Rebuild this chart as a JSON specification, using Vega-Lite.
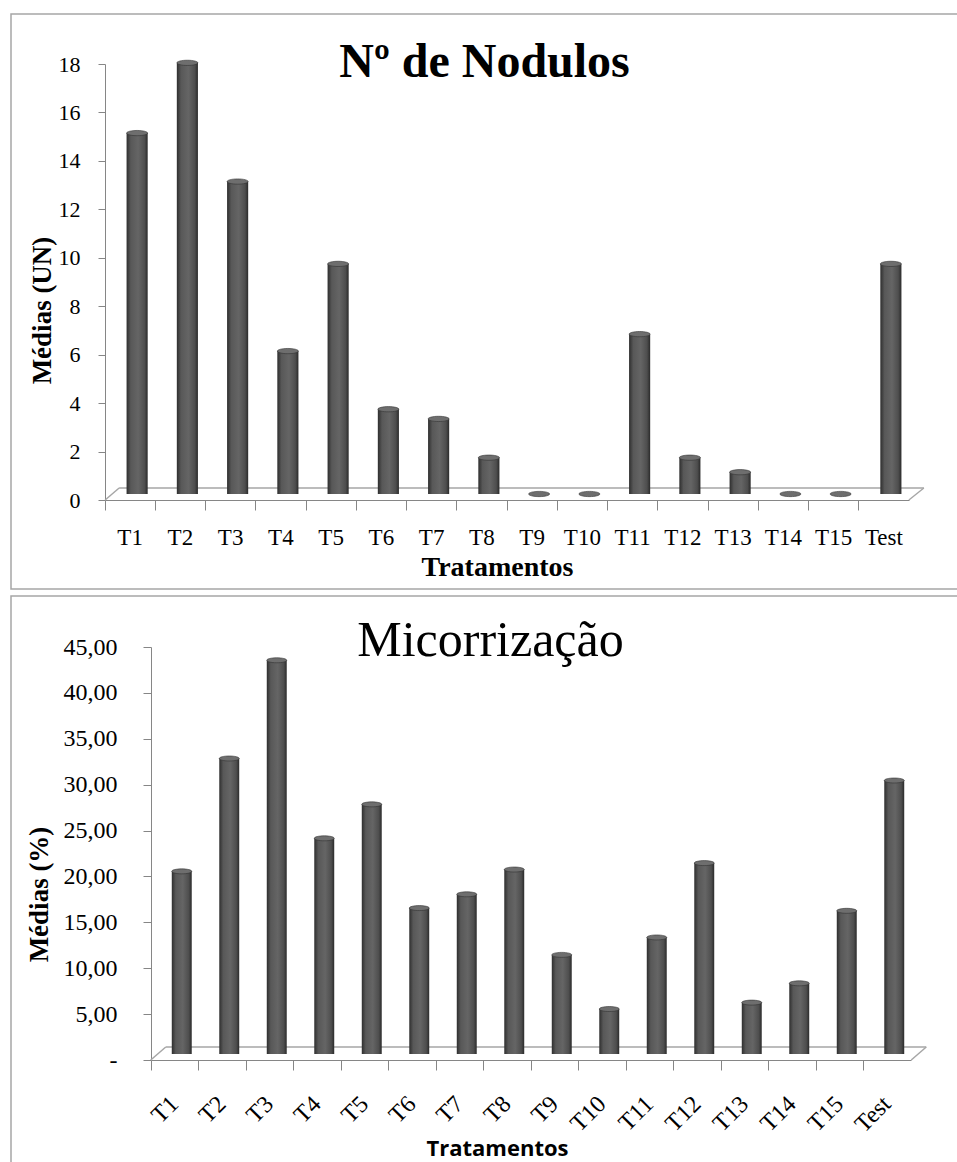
{
  "$schema": "https://vega.github.io/schema/vega-lite/v6.json",
  "padding": {"left": 10, "top": 13, "right": 0, "bottom": 0},
  "background": "white",
  "spacing": 5,
  "datasets": {
    "nodulos": [
      {"trat": "T1", "media": 14.9},
      {"trat": "T2", "media": 17.8},
      {"trat": "T3", "media": 12.9},
      {"trat": "T4", "media": 5.9},
      {"trat": "T5", "media": 9.5},
      {"trat": "T6", "media": 3.5},
      {"trat": "T7", "media": 3.1},
      {"trat": "T8", "media": 1.5},
      {"trat": "T9", "media": 0},
      {"trat": "T10", "media": 0},
      {"trat": "T11", "media": 6.6},
      {"trat": "T12", "media": 1.5},
      {"trat": "T13", "media": 0.9},
      {"trat": "T14", "media": 0},
      {"trat": "T15", "media": 0},
      {"trat": "Test", "media": 9.5}
    ],
    "micorrizacao": [
      {"trat": "T1", "media": 19.9},
      {"trat": "T2", "media": 32.2},
      {"trat": "T3", "media": 42.9},
      {"trat": "T4", "media": 23.5},
      {"trat": "T5", "media": 27.2},
      {"trat": "T6", "media": 15.9},
      {"trat": "T7", "media": 17.4},
      {"trat": "T8", "media": 20.1},
      {"trat": "T9", "media": 10.8},
      {"trat": "T10", "media": 4.9},
      {"trat": "T11", "media": 12.7},
      {"trat": "T12", "media": 20.8},
      {"trat": "T13", "media": 5.6},
      {"trat": "T14", "media": 7.7},
      {"trat": "T15", "media": 15.6},
      {"trat": "Test", "media": 29.8}
    ]
  },
  "vconcat": [
    {
      "width": 947,
      "height": 575,
      "view": {"stroke": "#a6a6a6", "strokeWidth": 1.5},
      "title": {
        "text": "Nº de Nodulos",
        "font": "Liberation Serif",
        "fontSize": 48,
        "fontWeight": "bold",
        "color": "black",
        "anchor": "middle",
        "frame": "group",
        "offset": -73
      },
      "data": {"name": "nodulos"},
      "encoding": {
        "x": {
          "field": "trat",
          "type": "nominal",
          "sort": null,
          "scale": {
            "domain": ["T1", "T2", "T3", "T4", "T5", "T6", "T7", "T8", "T9", "T10", "T11", "T12", "T13", "T14", "T15", "Test"],
            "range": [94, 898], "paddingInner": 0, "paddingOuter": 0
          },
          "axis": {
            "orient": "bottom",
            "offset": -89,
            "bandPosition": 0,
            "labelAngle": 0,
            "tickSize": 10,
            "tickColor": "#868686",
            "domainColor": "#868686",
            "labelFont": "Liberation Serif",
            "labelFontSize": 23,
            "labelColor": "black",
            "labelPadding": 16,
            "title": "Tratamentos",
            "titleFont": "Liberation Serif",
            "titleFontSize": 28,
            "titleFontWeight": "bold",
            "titleColor": "black",
            "titlePadding": 4,
            "titleX": 486
          }
        },
        "y": {
          "field": "media",
          "type": "quantitative",
          "scale": {"domain": [0, 18], "range": [486, 50], "nice": false},
          "axis": {
            "orient": "left",
            "offset": -94,
            "values": [0, 2, 4, 6, 8, 10, 12, 14, 16, 18],
            "grid": false,
            "tickSize": 7,
            "tickColor": "#868686",
            "domainColor": "#868686",
            "labelFont": "Liberation Serif",
            "labelFontSize": 22,
            "labelColor": "black",
            "labelPadding": 18,
            "title": "Médias (UN)",
            "titleFont": "Liberation Serif",
            "titleFontSize": 27,
            "titleFontWeight": "bold",
            "titleColor": "black",
            "titlePadding": 2,
            "titleY": 296
          }
        }
      },
      "layer": [
        {
          "transform": [{"filter": "datum.trat === 'T1'"}],
          "mark": {"type": "rule", "color": "#a6a6a6", "strokeWidth": 1.5, "xOffset": -11, "x2Offset": 40, "yOffset": -12},
          "encoding": {
            "x": {"datum": "T1", "type": "nominal"},
            "x2": {"datum": "Test"},
            "y": {"datum": 0, "type": "quantitative"}
          }
        },
        {
          "transform": [{"filter": "datum.trat === 'T1'"}],
          "mark": {"type": "rule", "color": "#a6a6a6", "strokeWidth": 1.5, "xOffset": -25, "x2Offset": -11, "y2Offset": -12},
          "encoding": {
            "x": {"datum": "T1", "type": "nominal"},
            "x2": {"datum": "T1"},
            "y": {"datum": 0, "type": "quantitative"},
            "y2": {"datum": 0}
          }
        },
        {
          "transform": [{"filter": "datum.trat === 'T1'"}],
          "mark": {"type": "rule", "color": "#a6a6a6", "strokeWidth": 1.5, "xOffset": 25, "x2Offset": 40, "y2Offset": -12},
          "encoding": {
            "x": {"datum": "Test", "type": "nominal"},
            "x2": {"datum": "Test"},
            "y": {"datum": 0, "type": "quantitative"},
            "y2": {"datum": 0}
          }
        },
        {
          "mark": {
            "type": "bar",
            "width": {"band": 0.42},
            "xOffset": 7,
            "yOffset": -6,
            "y2Offset": -6,
            "fill": {
              "gradient": "linear", "x1": 0, "x2": 1, "y1": 0, "y2": 0,
              "stops": [
                {"offset": 0, "color": "#2e2e2e"},
                {"offset": 0.2, "color": "#585858"},
                {"offset": 0.55, "color": "#656565"},
                {"offset": 0.85, "color": "#4e4e4e"},
                {"offset": 1, "color": "#2a2a2a"}
              ]
            }
          }
        },
        {
          "mark": {
            "type": "point",
            "shape": "M-1,0A1,0.25,0,1,1,1,0A1,0.25,0,1,1,-1,0Z",
            "size": 441,
            "filled": true,
            "fill": "#6e6e6e",
            "stroke": "#333333",
            "strokeWidth": 0.6,
            "opacity": 1,
            "xOffset": 7,
            "yOffset": -6
          }
        }
      ]
    },
    {
      "width": 947,
      "height": 569,
      "view": {"stroke": "#a6a6a6", "strokeWidth": 1.5},
      "title": {
        "text": "Micorrização",
        "font": "Liberation Serif",
        "fontSize": 50,
        "fontWeight": "normal",
        "color": "black",
        "anchor": "middle",
        "frame": "group",
        "offset": -70,
        "dx": 6
      },
      "data": {"name": "micorrizacao"},
      "encoding": {
        "x": {
          "field": "trat",
          "type": "nominal",
          "sort": null,
          "scale": {
            "domain": ["T1", "T2", "T3", "T4", "T5", "T6", "T7", "T8", "T9", "T10", "T11", "T12", "T13", "T14", "T15", "Test"],
            "range": [140, 900], "paddingInner": 0, "paddingOuter": 0
          },
          "axis": {
            "orient": "bottom",
            "offset": -105,
            "bandPosition": 0,
            "labelAngle": -45,
            "labelAlign": "right",
            "labelBaseline": "middle",
            "tickSize": 10,
            "tickColor": "#868686",
            "domainColor": "#868686",
            "labelFont": "Liberation Serif",
            "labelFontSize": 24,
            "labelColor": "black",
            "labelPadding": 30,
            "title": "Tratamentos",
            "titleFont": "Open Sans",
            "titleFontSize": 22,
            "titleFontWeight": "bold",
            "titleColor": "black",
            "titlePadding": 2,
            "titleX": 486
          }
        },
        "y": {
          "field": "media",
          "type": "quantitative",
          "scale": {"domain": [0, 45], "range": [464, 51], "nice": false},
          "axis": {
            "orient": "left",
            "offset": -140,
            "values": [0, 5, 10, 15, 20, 25, 30, 35, 40, 45],
            "labelExpr": "datum.value === 0 ? '-\u2007\u2005' : replace(format(datum.value, '.2f'), '.', ',')",
            "grid": false,
            "tickSize": 8,
            "tickColor": "#868686",
            "domainColor": "#868686",
            "labelFont": "Liberation Serif",
            "labelFontSize": 24,
            "labelColor": "black",
            "labelPadding": 26,
            "title": "Médias (%)",
            "titleFont": "Liberation Serif",
            "titleFontSize": 27,
            "titleFontWeight": "bold",
            "titleColor": "black",
            "titlePadding": 10,
            "titleY": 298
          }
        }
      },
      "layer": [
        {
          "transform": [{"filter": "datum.trat === 'T1'"}],
          "mark": {"type": "rule", "color": "#a6a6a6", "strokeWidth": 1.5, "xOffset": -9, "x2Offset": 39, "yOffset": -13},
          "encoding": {
            "x": {"datum": "T1", "type": "nominal"},
            "x2": {"datum": "Test"},
            "y": {"datum": 0, "type": "quantitative"}
          }
        },
        {
          "transform": [{"filter": "datum.trat === 'T1'"}],
          "mark": {"type": "rule", "color": "#a6a6a6", "strokeWidth": 1.5, "xOffset": -24, "x2Offset": -9, "y2Offset": -13},
          "encoding": {
            "x": {"datum": "T1", "type": "nominal"},
            "x2": {"datum": "T1"},
            "y": {"datum": 0, "type": "quantitative"},
            "y2": {"datum": 0}
          }
        },
        {
          "transform": [{"filter": "datum.trat === 'T1'"}],
          "mark": {"type": "rule", "color": "#a6a6a6", "strokeWidth": 1.5, "xOffset": 24, "x2Offset": 39, "y2Offset": -13},
          "encoding": {
            "x": {"datum": "Test", "type": "nominal"},
            "x2": {"datum": "Test"},
            "y": {"datum": 0, "type": "quantitative"},
            "y2": {"datum": 0}
          }
        },
        {
          "mark": {
            "type": "bar",
            "width": {"band": 0.42},
            "xOffset": 7,
            "yOffset": -6,
            "y2Offset": -6,
            "fill": {
              "gradient": "linear", "x1": 0, "x2": 1, "y1": 0, "y2": 0,
              "stops": [
                {"offset": 0, "color": "#2e2e2e"},
                {"offset": 0.2, "color": "#585858"},
                {"offset": 0.55, "color": "#656565"},
                {"offset": 0.85, "color": "#4e4e4e"},
                {"offset": 1, "color": "#2a2a2a"}
              ]
            }
          }
        },
        {
          "mark": {
            "type": "point",
            "shape": "M-1,0A1,0.25,0,1,1,1,0A1,0.25,0,1,1,-1,0Z",
            "size": 400,
            "filled": true,
            "fill": "#6e6e6e",
            "stroke": "#333333",
            "strokeWidth": 0.6,
            "opacity": 1,
            "xOffset": 7,
            "yOffset": -6
          }
        }
      ]
    }
  ]
}
